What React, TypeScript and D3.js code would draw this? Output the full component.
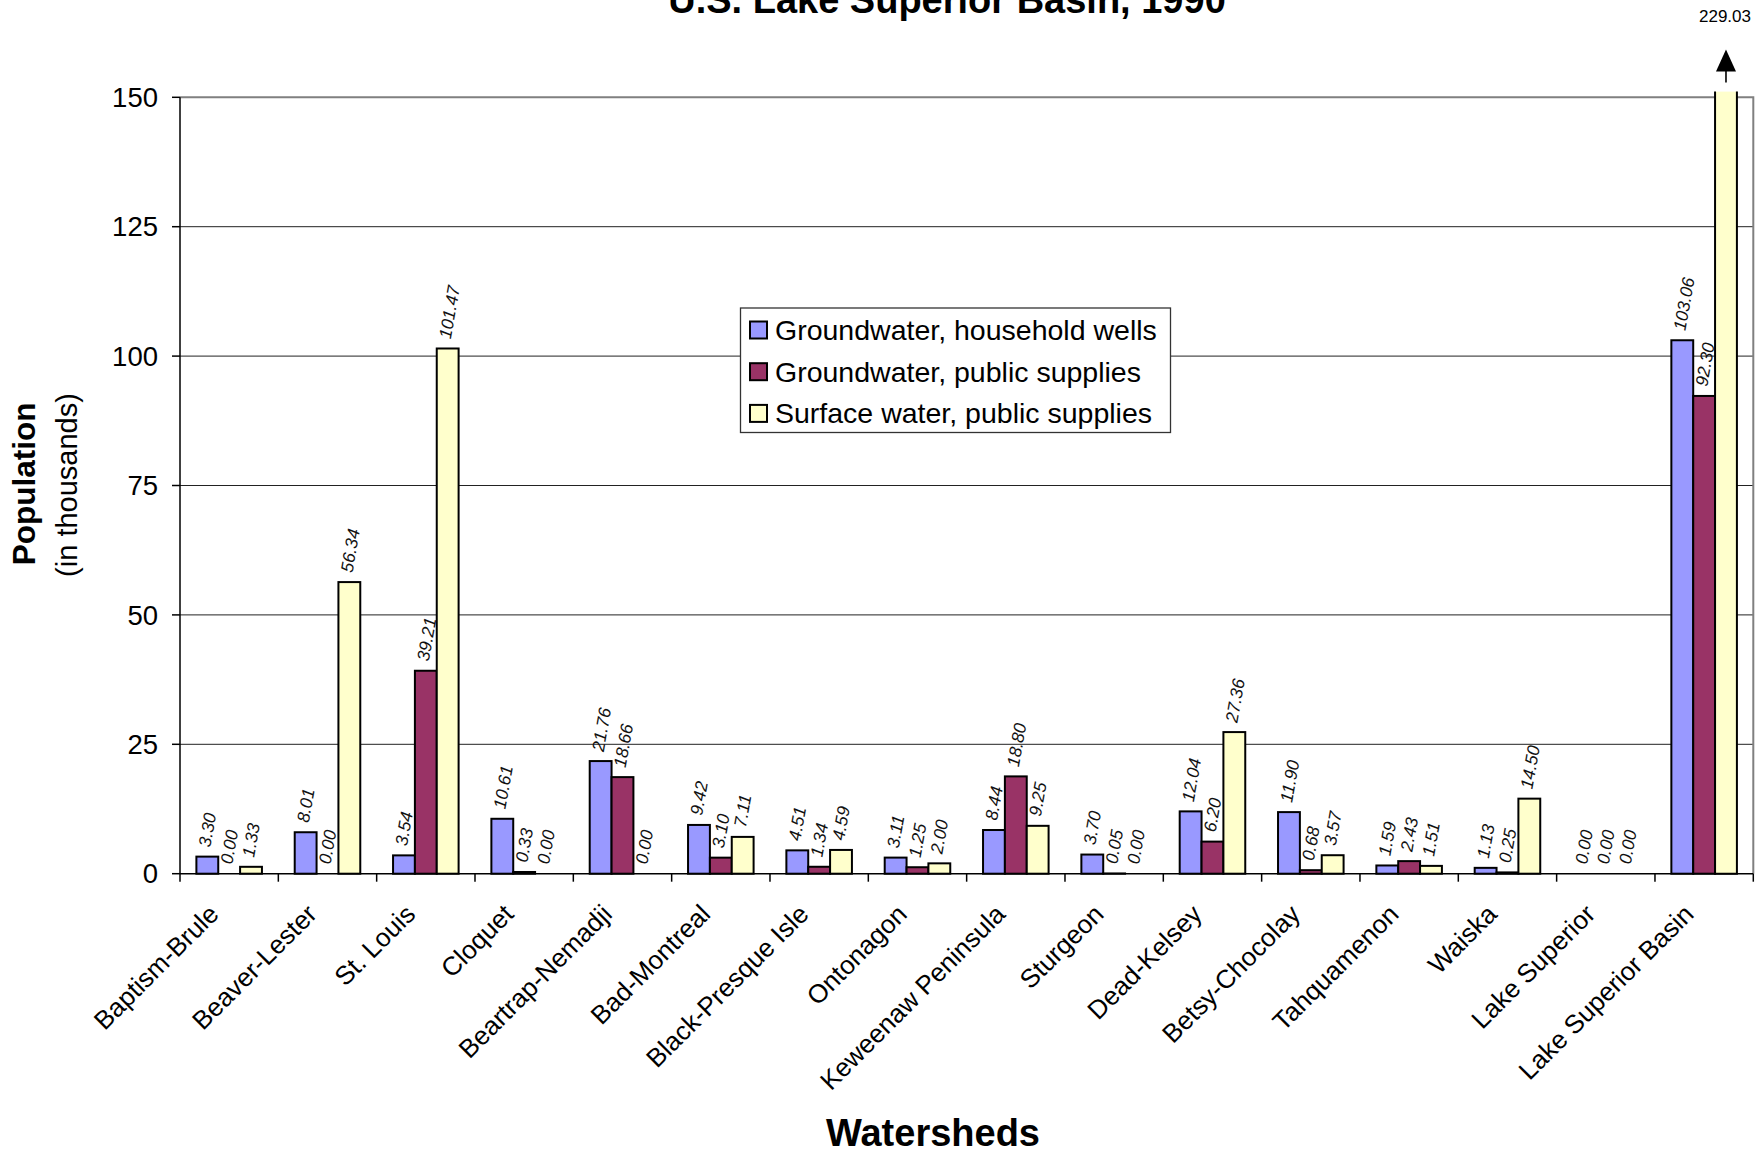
import React, { useCallback, useEffect, useRef } from "react";
import * as d3 from "d3";

// watershed names, left to right
const watersheds = [
  "Baptism-Brule",
  "Beaver-Lester",
  "St. Louis",
  "Cloquet",
  "Beartrap-Nemadji",
  "Bad-Montreal",
  "Black-Presque Isle",
  "Ontonagon",
  "Keweenaw Peninsula",
  "Sturgeon",
  "Dead-Kelsey",
  "Betsy-Chocolay",
  "Tahquamenon",
  "Waiska",
  "Lake Superior",
  "Lake Superior Basin",
];

const seriesNames = [
  "Groundwater, household wells",
  "Groundwater, public supplies",
  "Surface water, public supplies",
];

// population in thousands
const householdWells = [3.3, 8.01, 3.54, 10.61, 21.76, 9.42, 4.51, 3.11, 8.44, 3.7, 12.04, 11.9, 1.59, 1.13, 0, 103.06];
const publicGround = [0, 0, 39.21, 0.33, 18.66, 3.1, 1.34, 1.25, 18.8, 0.05, 6.2, 0.68, 2.43, 0.25, 0, 92.3];
const publicSurface = [1.33, 56.34, 101.47, 0, 0, 7.11, 4.59, 2.0, 9.25, 0, 27.36, 3.57, 1.51, 14.5, 0, 229.03];

const yTicks = [0, 25, 50, 75, 100, 125, 150];
const colors = ["#9999FF", "#993366", "#FFFFCC"];

const FONT = "'Liberation Sans', Arial, Helvetica, sans-serif";

const Chart = () => {
  const svgRef = useRef<SVGSVGElement>(null);

  const renderChart = useCallback(() => {
    const root = d3.select(svgRef.current);
    root.selectChildren().remove();

    const W = 1758,
      H = 1156;
    const plot = { left: 180, right: 1753.3, top: 97.3, bottom: 873.7 };
    const yMax = 150;

    root.attr("width", W).attr("height", H).style("font-family", FONT);

    const x = d3
      .scaleBand<string>()
      .domain(watersheds)
      .range([plot.left, plot.right])
      .paddingInner(0)
      .paddingOuter(0);

    // Excel style gap width of 150%
    const xSub = d3
      .scaleBand<number>()
      .domain([0, 1, 2])
      .range([0, x.step()])
      .paddingInner(0)
      .paddingOuter(0.75);

    const y = d3.scaleLinear().domain([0, yMax]).range([plot.bottom, plot.top]);

    // title (cut off by the top edge, as in the source)
    root
      .append("text")
      .attr("x", 947)
      .attr("y", 13)
      .attr("text-anchor", "middle")
      .attr("font-size", 38)
      .attr("font-weight", "bold")
      .text("U.S. Lake Superior Basin, 1990");

    // gridlines
    root
      .append("g")
      .selectAll("line")
      .data(yTicks.filter((t) => t > 0 && t < yMax))
      .enter()
      .append("line")
      .attr("x1", plot.left)
      .attr("x2", plot.right)
      .attr("y1", (d) => y(d))
      .attr("y2", (d) => y(d))
      .attr("stroke", "#222")
      .attr("stroke-width", 1);

    // plot area border (top and right)
    root
      .append("path")
      .attr("d", `M${plot.left},${y(yMax)}H${plot.right}V${plot.bottom}`)
      .attr("fill", "none")
      .attr("stroke", "#808080")
      .attr("stroke-width", 2);

    const series = [householdWells, publicGround, publicSurface];
    const overflowTop = y(151.1);

    const bars = root.append("g");
    series.forEach((values, si) => {
      const data = values.map((v, i) => ({ v, name: watersheds[i] })).filter((d) => d.v > 0);
      const bx = (d: { name: string }) => (x(d.name) as number) + (xSub(si) as number);

      // bars inside the scale
      bars
        .append("g")
        .selectAll("rect")
        .data(data.filter((d) => d.v <= yMax))
        .enter()
        .append("rect")
        .attr("x", bx)
        .attr("width", xSub.bandwidth())
        .attr("y", (d) => y(d.v))
        .attr("height", (d) => plot.bottom - y(d.v))
        .attr("fill", colors[si])
        .attr("stroke", "#000")
        .attr("stroke-width", 2);

      // bars running off the top: open ended
      const over = bars
        .append("g")
        .selectAll("g")
        .data(data.filter((d) => d.v > yMax))
        .enter()
        .append("g");
      over
        .append("rect")
        .attr("x", bx)
        .attr("width", xSub.bandwidth())
        .attr("y", overflowTop)
        .attr("height", plot.bottom - overflowTop)
        .attr("fill", colors[si]);
      over
        .append("path")
        .attr(
          "d",
          (d) =>
            `M${bx(d)},${overflowTop}V${plot.bottom}H${bx(d) + xSub.bandwidth()}V${overflowTop}`
        )
        .attr("fill", "none")
        .attr("stroke", "#000")
        .attr("stroke-width", 2);
    });

    // value labels
    const labels = root.append("g");
    series.forEach((values, si) => {
      labels
        .append("g")
        .selectAll("text")
        .data(values.map((v, i) => ({ v, name: watersheds[i] })).filter((d) => d.v <= yMax))
        .enter()
        .append("text")
        .attr("transform", (d) => {
          const cx = (x(d.name) as number) + (xSub(si) as number) + xSub.bandwidth() / 2;
          return `translate(${cx - 3},${y(d.v) - 10}) rotate(-80)`;
        })
        .attr("dy", "0.35em")
        .attr("font-size", 17.5)
        .attr("font-style", "italic")
        .attr("fill", "#111")
        .text((d) => d.v.toFixed(2));
    });

    // off-scale bar: arrow and value
    series.forEach((values, si) => {
      values.forEach((v, i) => {
        if (v <= yMax) return;
        const cx = (x(watersheds[i]) as number) + (xSub(si) as number) + xSub.bandwidth() / 2;
        root
          .append("line")
          .attr("x1", cx)
          .attr("x2", cx)
          .attr("y1", overflowTop - 9)
          .attr("y2", overflowTop - 22)
          .attr("stroke", "#000")
          .attr("stroke-width", 1.6);
        root
          .append("path")
          .attr("d", `M${cx},${overflowTop - 42}L${cx + 10},${overflowTop - 20}L${cx - 10},${overflowTop - 20}Z`)
          .attr("fill", "#000");
        root
          .append("text")
          .attr("x", cx - 1)
          .attr("y", overflowTop - 70)
          .attr("text-anchor", "middle")
          .attr("font-size", 17)
          .text(v.toFixed(2));
      });
    });

    // y axis
    root
      .append("line")
      .attr("x1", plot.left)
      .attr("x2", plot.left)
      .attr("y1", plot.top)
      .attr("y2", plot.bottom)
      .attr("stroke", "#000")
      .attr("stroke-width", 1.5);

    const yAxisG = root.append("g");
    yAxisG
      .selectAll("line")
      .data(yTicks)
      .enter()
      .append("line")
      .attr("x1", plot.left - 8)
      .attr("x2", plot.left)
      .attr("y1", (d) => y(d))
      .attr("y2", (d) => y(d))
      .attr("stroke", "#000")
      .attr("stroke-width", 1.5);
    yAxisG
      .selectAll("text")
      .data(yTicks)
      .enter()
      .append("text")
      .attr("x", plot.left - 22)
      .attr("y", (d) => y(d))
      .attr("dy", "0.35em")
      .attr("text-anchor", "end")
      .attr("font-size", 27.5)
      .text((d) => String(d));

    // x axis
    root
      .append("line")
      .attr("x1", plot.left)
      .attr("x2", plot.right)
      .attr("y1", plot.bottom)
      .attr("y2", plot.bottom)
      .attr("stroke", "#000")
      .attr("stroke-width", 1.5);

    const xAxisG = root.append("g");
    xAxisG
      .selectAll("line")
      .data([...watersheds.map((w) => x(w) as number), plot.right])
      .enter()
      .append("line")
      .attr("x1", (d) => d)
      .attr("x2", (d) => d)
      .attr("y1", plot.bottom)
      .attr("y2", plot.bottom + 8)
      .attr("stroke", "#000")
      .attr("stroke-width", 1.5);
    xAxisG
      .selectAll("text")
      .data(watersheds)
      .enter()
      .append("text")
      .attr("transform", (d) => {
        const cx = (x(d) as number) + x.bandwidth() / 2;
        return `translate(${cx - 9},${plot.bottom + 42}) rotate(-45)`;
      })
      .attr("text-anchor", "end")
      .attr("font-size", 26)
      .text((d) => d);

    // axis titles
    root
      .append("text")
      .attr("transform", "translate(35,484) rotate(-90)")
      .attr("text-anchor", "middle")
      .attr("font-size", 31.5)
      .attr("font-weight", "bold")
      .text("Population");
    root
      .append("text")
      .attr("transform", "translate(77,485) rotate(-90)")
      .attr("text-anchor", "middle")
      .attr("font-size", 29)
      .text("(in thousands)");
    root
      .append("text")
      .attr("x", 933)
      .attr("y", 1146)
      .attr("text-anchor", "middle")
      .attr("font-size", 38)
      .attr("font-weight", "bold")
      .text("Watersheds");

    // legend
    const legend = root.append("g");
    legend
      .append("rect")
      .attr("x", 740.5)
      .attr("y", 308)
      .attr("width", 430)
      .attr("height", 124.5)
      .attr("fill", "#fff")
      .attr("stroke", "#333")
      .attr("stroke-width", 1.3);
    const rows = legend
      .selectAll("g")
      .data(seriesNames)
      .enter()
      .append("g")
      .attr("transform", (d, i) => `translate(750,${330 + i * 41.7})`);
    rows
      .append("rect")
      .attr("x", 0)
      .attr("y", -8.5)
      .attr("width", 17)
      .attr("height", 17)
      .attr("fill", (d, i) => colors[i])
      .attr("stroke", "#000")
      .attr("stroke-width", 2);
    rows
      .append("text")
      .attr("x", 25)
      .attr("y", 0)
      .attr("dy", "0.35em")
      .attr("font-size", 28.5)
      .text((d) => d);

    return root;
  }, []);

  useEffect(() => {
    renderChart();
  }, [renderChart]);

  return <svg ref={svgRef} style={{ position: "absolute", left: 0, top: 0, background: "#fff" }}></svg>;
};

export default function App() {
  return <Chart />;
}
